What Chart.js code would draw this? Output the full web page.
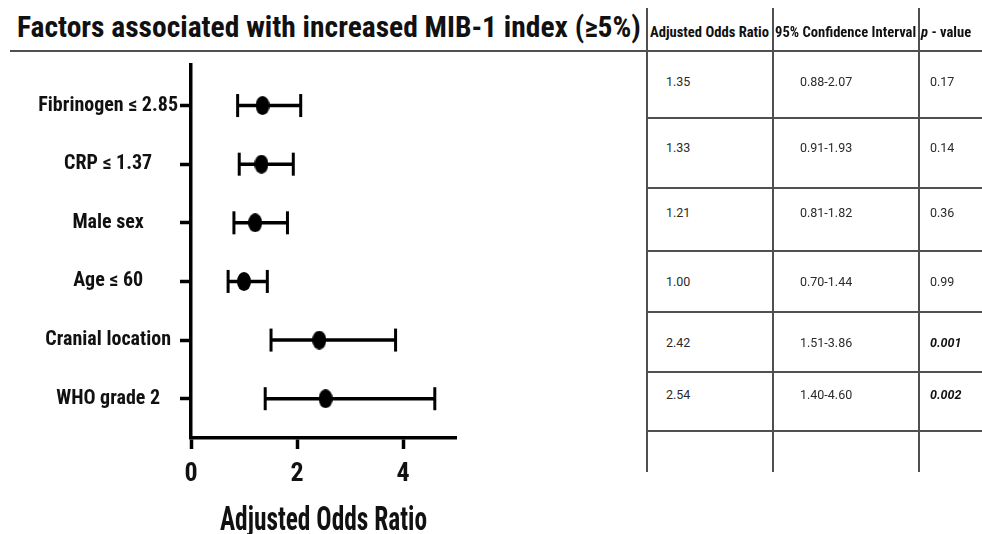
<!DOCTYPE html>
<html>
<head>
<meta charset="utf-8">
<script src="https://cdn.jsdelivr.net/npm/chart.js@4.4.1/dist/chart.umd.min.js"></script>
<style>
  html, body { margin: 0; padding: 0; background: #fff; }
  #page { position: relative; width: 982px; height: 534px; overflow: hidden; }
  #title {
    position: absolute; left: 17px; top: 9px; white-space: nowrap;
    font: bold 29.5px 'Roboto Condensed', Roboto, sans-serif; color: #111;
    line-height: 36px;
  }
  #plot { position: absolute; left: 0; top: 50px; width: 640px; height: 484px; }
  .hline, .vline { position: absolute; background: #505050; }
  .cell {
    position: absolute; height: 20px; line-height: 20px; white-space: nowrap;
    font: 12.5px Roboto, sans-serif; color: #2a2a2a;
  }
  .cell.sig { font-weight: bold; font-style: italic; color: #111; }
  .head {
    position: absolute; height: 20px; line-height: 20px; white-space: nowrap;
    font: bold 14.6px 'Roboto Condensed', Roboto, sans-serif; color: #111;
  }
</style>
</head>
<body>
<div id="page">
  <div id="title">Factors associated with increased MIB-1 index (≥5%)</div>
  <div id="plot"><canvas id="chart" width="640" height="484"></canvas></div>
</div>
<script>
// Multivariable model results, one entry per factor (top to bottom)
const factors = ['Fibrinogen ≤ 2.85', 'CRP ≤ 1.37', 'Male sex', 'Age ≤ 60', 'Cranial location', 'WHO grade 2'];
const oddsRatio = [1.35, 1.33, 1.21, 1.00, 2.42, 2.54];
const ciLower  = [0.88, 0.91, 0.81, 0.70, 1.51, 1.40];
const ciUpper  = [2.07, 1.93, 1.82, 1.44, 3.86, 4.60];
const pValues  = ['0.17', '0.14', '0.36', '0.99', '0.001', '0.002'];
const xTickValues = [0, 2, 4];
const xAxisTitle = 'Adjusted Odds Ratio';
const tableHeaders = ['Adjusted Odds Ratio', '95% Confidence Interval', 'p - value'];

// ---------- forest plot ----------
const rowIndex = factors.map((_, i) => i);
const condensed = "'Roboto Condensed', Roboto, sans-serif";

// filled ellipse used as the point marker
function ellipseMarker(w, h) {
  const c = document.createElement('canvas');
  c.width = w; c.height = h;
  const g = c.getContext('2d');
  g.fillStyle = '#000';
  g.beginPath();
  g.ellipse(w / 2, h / 2, w / 2, h / 2, 0, 0, Math.PI * 2);
  g.fill();
  return c;
}

const whiskerData = [];
rowIndex.forEach(i => {
  whiskerData.push({ x: ciLower[i], y: i }, { x: ciUpper[i], y: i }, { x: null, y: null });
});
const capData = [];
rowIndex.forEach(i => {
  capData.push({ x: ciLower[i], y: i }, { x: ciUpper[i], y: i });
});
const pointData = rowIndex.map(i => ({ x: oddsRatio[i], y: i }));

// x-axis title set in a narrow, tall bold face (horizontally compressed)
const narrowAxisTitle = {
  id: 'narrowAxisTitle',
  afterDraw(chart) {
    const s = chart.scales.x;
    const ctx = chart.ctx;
    ctx.save();
    ctx.fillStyle = '#111';
    ctx.font = 'bold 33px ' + condensed;
    ctx.textAlign = 'center';
    ctx.textBaseline = 'alphabetic';
    ctx.translate((s.left + s.right) / 2, s.bottom - 4);
    ctx.scale(0.77, 1);
    ctx.fillText(xAxisTitle, 0, 0);
    ctx.restore();
  }
};

new Chart(document.getElementById('chart'), {
  type: 'scatter',
  data: {
    datasets: [
      {
        label: 'Adjusted OR',
        data: pointData,
        pointStyle: ellipseMarker(14, 19),
        pointRadius: 8,
        clip: false
      },
      {
        label: 'CI caps',
        data: capData,
        pointStyle: 'line',
        rotation: 90,
        pointRadius: 11.5,
        borderColor: '#000',
        pointBorderWidth: 3,
        clip: false
      },
      {
        type: 'line',
        label: '95% CI',
        data: whiskerData,
        showLine: true,
        spanGaps: false,
        borderColor: '#000',
        borderWidth: 3.5,
        pointRadius: 0,
        clip: false
      }
    ]
  },
  options: {
    responsive: false,
    animation: false,
    events: [],
    layout: { padding: { top: 8, right: 184, left: 0, bottom: 0 } },
    plugins: { legend: { display: false }, tooltip: { enabled: false } },
    scales: {
      x: {
        type: 'linear',
        min: 0,
        max: 5,
        afterBuildTicks: s => { s.ticks = xTickValues.map(v => ({ value: v })); },
        afterFit: s => { s.height = 96; },
        border: { display: true, color: '#000', width: 3.5 },
        grid: { display: true, drawOnChartArea: false, drawTicks: true, tickLength: 11, tickWidth: 3.5, tickColor: '#000' },
        ticks: {
          color: '#111', padding: 10,
          font: { family: condensed, size: 26, weight: 'bold' }
        },
        title: { display: false, text: xAxisTitle }
      },
      y: {
        type: 'linear',
        reverse: true,
        min: -0.7,
        max: 5.67,
        afterBuildTicks: s => { s.ticks = rowIndex.map(i => ({ value: i })); },
        afterFit: s => { s.width = 191; },
        border: { display: true, color: '#000', width: 3.5 },
        grid: { display: true, drawOnChartArea: false, drawTicks: true, tickLength: 11, tickWidth: 3.5, tickColor: '#000' },
        ticks: {
          color: '#111', padding: 2, crossAlign: 'center', autoSkip: false,
          callback: (v, idx) => factors[idx],
          font: { family: condensed, size: 20, weight: 'bold' }
        }
      }
    }
  },
  plugins: [narrowAxisTitle]
});

// ---------- results table ----------
const page = document.getElementById('page');
const colX = [647, 773, 919];          // column separators
const tableRight = 982;
const rowLinesY = [118, 188, 251, 312, 372, 431];
const rowTextY = [84, 150, 215, 284, 345, 397];
const cellLeft = [666, 800, 930];
const headLeft = [650, 775, 921];

function addDiv(cls, style, html) {
  const d = document.createElement('div');
  d.className = cls;
  Object.assign(d.style, style);
  if (html !== undefined) d.innerHTML = html;
  page.appendChild(d);
  return d;
}

// rule under the title, running across the table header
addDiv('hline', { left: '10px', top: '50px', width: (tableRight - 10) + 'px', height: '2px' });
rowLinesY.forEach(y => addDiv('hline', { left: colX[0] + 'px', top: (y - 1) + 'px', width: (tableRight - colX[0]) + 'px', height: '2px' }));
colX.forEach(x => addDiv('vline', { left: (x - 1) + 'px', top: '8px', width: '1.5px', height: '464px' }));

// header
addDiv('head', { left: headLeft[0] + 'px', top: '23px' }, tableHeaders[0]);
addDiv('head', { left: headLeft[1] + 'px', top: '23px' }, tableHeaders[1]);
addDiv('head', { left: headLeft[2] + 'px', top: '23px' }, '<i>p</i>' + tableHeaders[2].slice(1));

// body rows
rowIndex.forEach(i => {
  const top = (rowTextY[i] - 10) + 'px';
  addDiv('cell', { left: cellLeft[0] + 'px', top }, oddsRatio[i].toFixed(2));
  addDiv('cell', { left: cellLeft[1] + 'px', top }, ciLower[i].toFixed(2) + '-' + ciUpper[i].toFixed(2));
  const sig = parseFloat(pValues[i]) < 0.05;
  addDiv('cell' + (sig ? ' sig' : ''), { left: cellLeft[2] + 'px', top }, pValues[i]);
});
</script>
</body>
</html>
